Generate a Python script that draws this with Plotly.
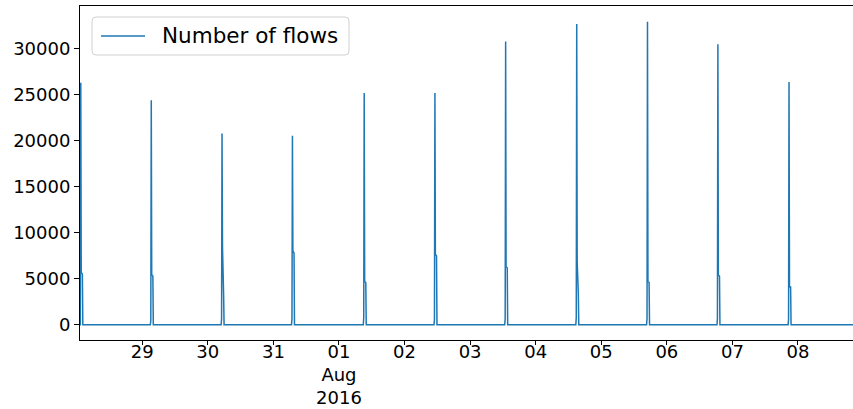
import pandas as pd
import plotly.graph_objects as go

# Daily flow bursts: time of the main peak and the flow counts around it
peak_times = [
    "2016-07-28 01:30", "2016-07-29 03:18", "2016-07-30 05:12", "2016-07-31 06:58",
    "2016-08-01 09:14", "2016-08-02 11:07", "2016-08-03 13:00", "2016-08-04 15:01",
    "2016-08-05 16:55", "2016-08-06 18:41", "2016-08-07 20:43",
]
pre_values = [0, 500, 650, 700, 800, 600, 700, 800, 700, 700, 600]
peak_values = [26300, 24400, 20800, 20550, 25200, 25200, 30800, 32700, 32950, 30500, 26400]
after_values = [5700, 5430, 8480, 8040, 4700, 7640, 6300, 6850, 4680, 5400, 4160]
tail_values = [5500, 5300, 3150, 7800, 4600, 7500, 6200, 3370, 4600, 5300, 4100]

series_start = "2016-07-28 01:13"
series_end = "2016-08-08 23:50"
view_end = "2016-08-08 20:08"

tick_days = ["2016-07-29", "2016-07-30", "2016-07-31", "2016-08-01", "2016-08-02",
             "2016-08-03", "2016-08-04", "2016-08-05", "2016-08-06", "2016-08-07",
             "2016-08-08"]
tick_labels = ["29", "30", "31", "01<br>Aug<br>2016", "02", "03", "04", "05", "06", "07", "08"]

series_name = "Number of flows"
line_color = "#1f77b4"

# Assemble the flow-count series: zero baseline with a short burst each day
times = [pd.Timestamp(series_start)]
counts = [0]
offsets_min = [-20, -10, 0, 10, 35, 45]
for t, pre, pk, aft, tail in zip(peak_times, pre_values, peak_values, after_values, tail_values):
    t0 = pd.Timestamp(t)
    vals = [0, pre, pk, aft, tail, 0]
    for off, v in zip(offsets_min, vals):
        ts = t0 + pd.Timedelta(minutes=off)
        if ts <= times[-1]:
            continue
        times.append(ts)
        counts.append(v)
times.append(pd.Timestamp(series_end))
counts.append(0)

W, H = 853, 409
ML, MR, MT, MB = 80, 0, 6, 69
PW, PH = W - ML - MR, H - MT - MB


def px_x(x):
    return (x - ML) / PW


def px_y(y):
    return 1 - (y - MT) / PH


fig = go.Figure()
fig.add_trace(go.Scatter(
    x=times, y=counts, mode="lines", name=series_name,
    line=dict(color=line_color, width=1.5),
    showlegend=False,
))

# Legend frame with rounded corners, sample line and label
bx0, bx1, by0, by1, r = 92, 349, 17, 55, 4
frame = (
    f"M {px_x(bx0 + r)},{px_y(by0)} L {px_x(bx1 - r)},{px_y(by0)} "
    f"Q {px_x(bx1)},{px_y(by0)} {px_x(bx1)},{px_y(by0 + r)} "
    f"L {px_x(bx1)},{px_y(by1 - r)} Q {px_x(bx1)},{px_y(by1)} {px_x(bx1 - r)},{px_y(by1)} "
    f"L {px_x(bx0 + r)},{px_y(by1)} Q {px_x(bx0)},{px_y(by1)} {px_x(bx0)},{px_y(by1 - r)} "
    f"L {px_x(bx0)},{px_y(by0 + r)} Q {px_x(bx0)},{px_y(by0)} {px_x(bx0 + r)},{px_y(by0)} Z"
)
fig.add_shape(type="path", path=frame, xref="paper", yref="paper",
              line=dict(color="#d0d0d0", width=1), fillcolor="rgba(255,255,255,0.8)")
fig.add_shape(type="line", xref="paper", yref="paper",
              x0=px_x(101), x1=px_x(145), y0=px_y(36), y1=px_y(36),
              line=dict(color=line_color, width=1.5))
fig.add_annotation(xref="paper", yref="paper", x=px_x(160), y=px_y(35.5),
                   xanchor="left", yanchor="middle", showarrow=False,
                   text=series_name,
                   font=dict(family="DejaVu Sans", size=21.5, color="black"))

font_family = "DejaVu Sans"
fig.update_layout(
    width=W, height=H,
    margin=dict(l=ML, r=MR, t=MT, b=MB),
    paper_bgcolor="white", plot_bgcolor="white",
    font=dict(family=font_family, size=18, color="black"),
    showlegend=False,
    xaxis=dict(
        range=[series_start, view_end],
        tickmode="array", tickvals=tick_days, ticktext=tick_labels,
        showgrid=False, zeroline=False, automargin=False,
        showline=True, linecolor="black", linewidth=1, mirror=True,
        ticks="outside", ticklen=4, tickcolor="black",
        ticklabelstandoff=-9,
        tickfont=dict(family=font_family, size=18, color="black"),
    ),
    yaxis=dict(
        range=[-1650, 34650],
        tickmode="linear", tick0=0, dtick=5000, tickformat="d",
        showgrid=False, zeroline=False, automargin=False,
        showline=True, linecolor="black", linewidth=1, mirror=False,
        ticks="outside", ticklen=5, tickcolor="black",
        tickfont=dict(family=font_family, size=18, color="black"),
    ),
)

fig.write_html("out.html")
